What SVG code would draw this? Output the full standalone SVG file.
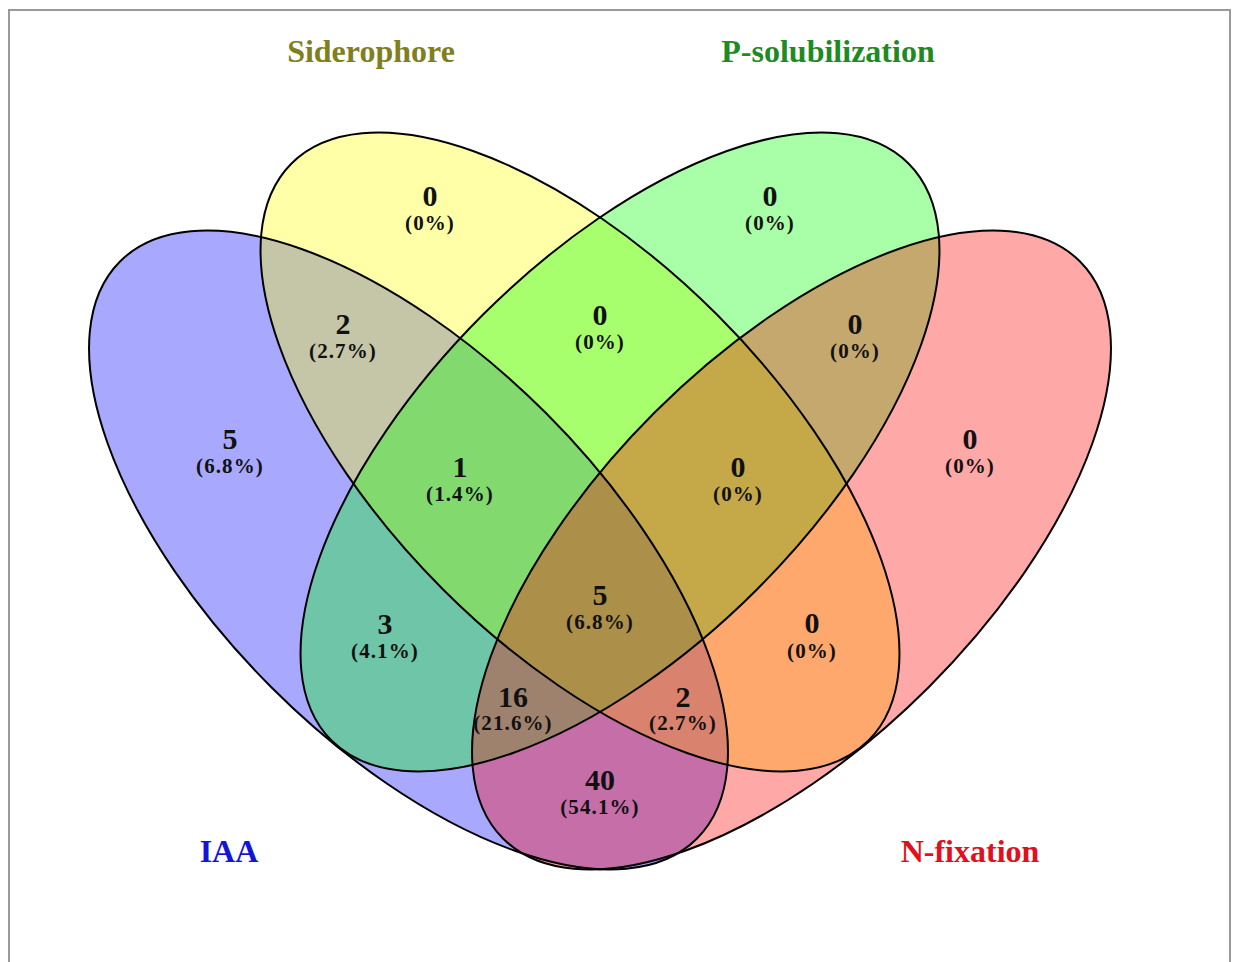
<svg xmlns="http://www.w3.org/2000/svg" width="1237" height="962" viewBox="0 0 1237 962">
<style>
.fill{stroke:none;fill-opacity:0.34}
.outline{fill:none;stroke:#000;stroke-width:2}
.num{font-family:"Liberation Serif","Times New Roman",serif;font-weight:bold;font-size:30px;fill:#111;text-anchor:middle}
.pct{font-family:"Liberation Serif","Times New Roman",serif;font-weight:bold;font-size:21px;fill:#111;text-anchor:middle;letter-spacing:1.1px}
.title{font-family:"Liberation Serif","Times New Roman",serif;font-weight:bold;font-size:32px;text-anchor:middle}
</style>
<rect x="0" y="0" width="1237" height="962" fill="#fff"/>
<path d="M9,970 V10 H1230 V970" fill="none" stroke="#9a9a9a" stroke-width="2"/>
<g id="set-iaa"><ellipse class="fill" cx="408.5" cy="550" rx="408" ry="194" transform="rotate(45 408.5 550)" fill="#0000ff"/></g>
<g id="set-siderophore"><ellipse class="fill" cx="580" cy="452" rx="408" ry="194" transform="rotate(45 580 452)" fill="#ffff00"/></g>
<g id="set-psol"><ellipse class="fill" cx="620" cy="452" rx="408" ry="194" transform="rotate(-45 620 452)" fill="#00ff00"/></g>
<g id="set-nfix"><ellipse class="fill" cx="791.5" cy="550" rx="408" ry="194" transform="rotate(-45 791.5 550)" fill="#ff0000"/></g>
<g id="outlines">
<ellipse class="outline" cx="408.5" cy="550" rx="408" ry="194" transform="rotate(45 408.5 550)"/>
<ellipse class="outline" cx="580" cy="452" rx="408" ry="194" transform="rotate(45 580 452)"/>
<ellipse class="outline" cx="620" cy="452" rx="408" ry="194" transform="rotate(-45 620 452)"/>
<ellipse class="outline" cx="791.5" cy="550" rx="408" ry="194" transform="rotate(-45 791.5 550)"/>
</g>
<g id="connectors"></g>
<g id="region-labels">
<text class="num" x="430" y="206">0</text><text class="pct" x="430" y="230">(0%)</text>
<text class="num" x="770" y="206">0</text><text class="pct" x="770" y="230">(0%)</text>
<text class="num" x="343" y="334">2</text><text class="pct" x="343" y="358">(2.7%)</text>
<text class="num" x="600" y="325">0</text><text class="pct" x="600" y="349">(0%)</text>
<text class="num" x="855" y="334">0</text><text class="pct" x="855" y="358">(0%)</text>
<text class="num" x="230" y="449">5</text><text class="pct" x="230" y="473">(6.8%)</text>
<text class="num" x="460" y="477">1</text><text class="pct" x="460" y="501">(1.4%)</text>
<text class="num" x="738" y="477">0</text><text class="pct" x="738" y="501">(0%)</text>
<text class="num" x="970" y="449">0</text><text class="pct" x="970" y="473">(0%)</text>
<text class="num" x="385" y="634">3</text><text class="pct" x="385" y="658">(4.1%)</text>
<text class="num" x="600" y="605">5</text><text class="pct" x="600" y="629">(6.8%)</text>
<text class="num" x="812" y="633">0</text><text class="pct" x="812" y="658">(0%)</text>
<text class="num" x="513" y="707">16</text><text class="pct" x="513" y="730">(21.6%)</text>
<text class="num" x="683" y="707">2</text><text class="pct" x="683" y="730">(2.7%)</text>
<text class="num" x="600" y="790">40</text><text class="pct" x="600" y="814">(54.1%)</text>
</g>
<g id="titles">
<text class="title" x="371" y="62" fill="#7f7f1e">Siderophore</text>
<text class="title" x="828" y="62" fill="#1f8a1f">P-solubilization</text>
<text class="title" x="229" y="862" fill="#1414d8">IAA</text>
<text class="title" x="970" y="862" fill="#e0101c">N-fixation</text>
</g>
</svg>
